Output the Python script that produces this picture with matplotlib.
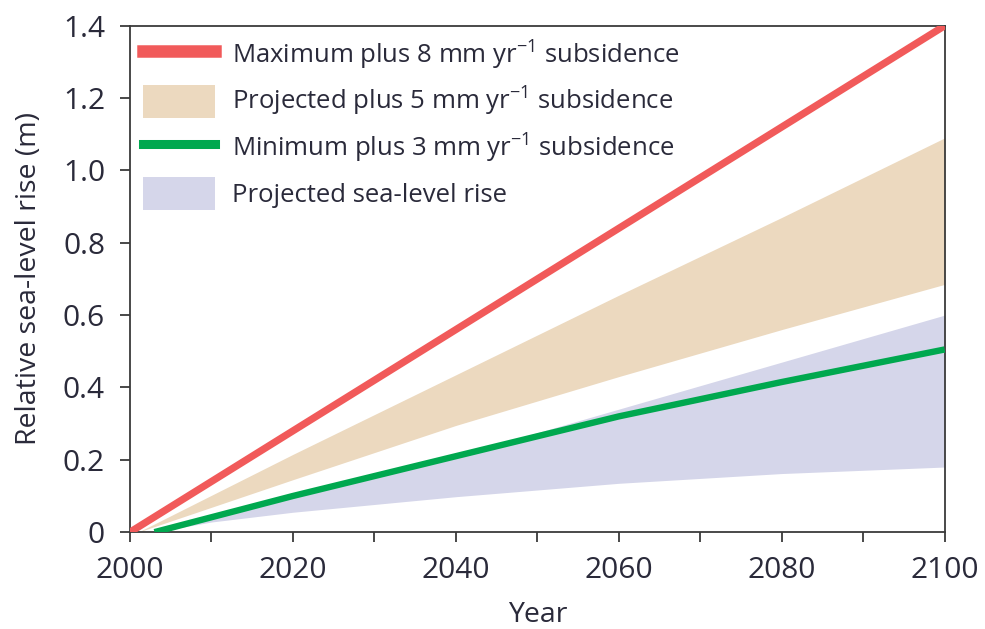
import matplotlib
matplotlib.use("Agg")
import matplotlib.pyplot as plt
from matplotlib.lines import Line2D
from matplotlib.patches import Patch
from matplotlib.ticker import FixedLocator, FuncFormatter

# ── Data ──────────────────────────────────────────────────────────────────────
max_years = [2000, 2020, 2040, 2060, 2080, 2100]
max_rise = [0.0, 0.28, 0.56, 0.84, 1.12, 1.40]

min_years = [2003, 2020, 2040, 2060, 2080, 2100]
min_rise = [0.0, 0.10, 0.21, 0.32, 0.415, 0.505]

proj5_years = [2001, 2020, 2040, 2060, 2080, 2100]
proj5_upper = [0.0, 0.215, 0.435, 0.655, 0.87, 1.09]
proj5_lower = [0.0, 0.145, 0.295, 0.43, 0.56, 0.685]

slr_years = [2003, 2010, 2020, 2040, 2060, 2080, 2100]
slr_upper = [0.0, 0.04, 0.095, 0.21, 0.34, 0.47, 0.60]
slr_lower = [0.0, 0.028, 0.055, 0.098, 0.135, 0.162, 0.18]

labels = [
    r"Maximum plus 8 mm yr$^{-1}$ subsidence",
    r"Projected plus 5 mm yr$^{-1}$ subsidence",
    r"Minimum plus 3 mm yr$^{-1}$ subsidence",
    "Projected sea-level rise",
]

# ── Style ─────────────────────────────────────────────────────────────────────
RED = "#f15a5a"
TAN = "#ecd9bf"
GREEN = "#00a84f"
BLUE = "#d5d6ea"
TEXT = "#2a2a3a"
SPINE = "#3a3a3a"

plt.rcParams["font.family"] = ["Open Sans", "DejaVu Sans"]
plt.rcParams["mathtext.default"] = "regular"
plt.rcParams["text.color"] = TEXT
plt.rcParams["axes.labelcolor"] = TEXT
plt.rcParams["xtick.color"] = SPINE
plt.rcParams["ytick.color"] = SPINE
plt.rcParams["xtick.labelcolor"] = TEXT
plt.rcParams["ytick.labelcolor"] = TEXT

fig = plt.figure(figsize=(9.85, 6.29), dpi=100)
ax = fig.add_axes([0.132, 0.154, 0.827, 0.805])

ax.fill_between(slr_years, slr_lower, slr_upper, color=BLUE, lw=0, zorder=1)
ax.fill_between(proj5_years, proj5_lower, proj5_upper, color=TAN, lw=0, zorder=1)
ax.plot(min_years, min_rise, color=GREEN, lw=4.6, solid_capstyle="butt", zorder=3)
ax.plot(max_years, max_rise, color=RED, lw=5.2, solid_capstyle="butt", zorder=4)

ax.set_xlim(2000, 2100)
ax.set_ylim(0, 1.4)

ax.xaxis.set_major_locator(FixedLocator([2000, 2020, 2040, 2060, 2080, 2100]))
ax.xaxis.set_minor_locator(FixedLocator([2010, 2030, 2050, 2070, 2090]))
ax.yaxis.set_major_locator(FixedLocator([0, 0.2, 0.4, 0.6, 0.8, 1.0, 1.2, 1.4]))
ax.yaxis.set_major_formatter(FuncFormatter(lambda v, _: "0" if v == 0 else f"{v:.1f}"))

ax.tick_params(axis="both", which="both", direction="out", length=7, width=1.3,
               labelsize=21.5)
ax.tick_params(axis="x", pad=10)
ax.tick_params(axis="y", pad=11)
for s in ax.spines.values():
    s.set_color(SPINE)
    s.set_linewidth(1.3)

ax.set_xlabel("Year", fontsize=20.5, labelpad=12)
ax.set_ylabel("Relative sea-level rise (m)", fontsize=20.5, labelpad=14)

handles = [
    Line2D([], [], color=RED, lw=9),
    Patch(facecolor=TAN, edgecolor="none"),
    Line2D([], [], color=GREEN, lw=6.5),
    Patch(facecolor=BLUE, edgecolor="none"),
]
ax.legend(handles, labels, loc="upper left", bbox_to_anchor=(0.016, 0.974),
          frameon=False, fontsize=18.5, handlelength=2.8, handleheight=1.6,
          handletextpad=0.65, labelspacing=0.5, borderaxespad=0, borderpad=0)

fig.savefig("out.png", dpi=100)
